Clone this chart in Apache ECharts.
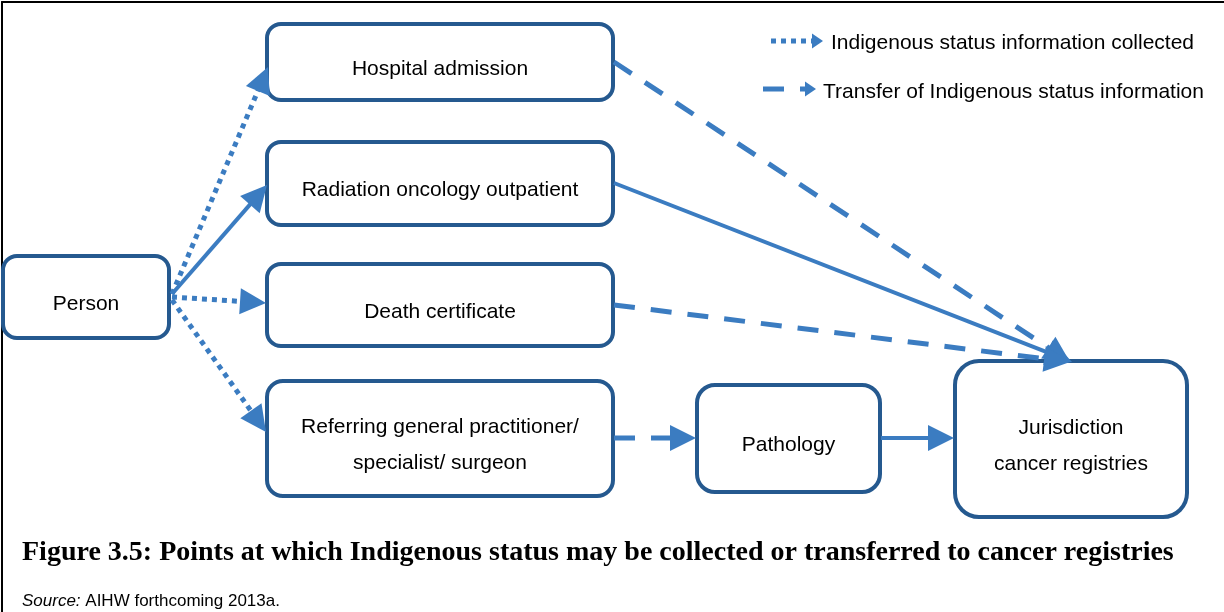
<!DOCTYPE html>
<html><head><meta charset="utf-8">
<script src="https://cdn.jsdelivr.net/npm/echarts@6/dist/echarts.min.js"></script>
<style>html,body{margin:0;padding:0;background:#fff}#c{width:1224px;height:612px}</style>
</head><body><div id="c"></div>
<script>
// ---- Diagram content ----
const nodeNames = [
  'Person',
  'Hospital admission',
  'Radiation oncology outpatient',
  'Death certificate',
  'Referring general practitioner/\nspecialist/ surgeon',
  'Pathology',
  'Jurisdiction\ncancer registries'
];
// links: from node index -> to node index, and the kind of flow
const linkFrom = [0, 0, 0, 0, 1, 2, 3, 4, 5];
const linkTo   = [1, 2, 3, 4, 6, 6, 6, 5, 6];
const linkKind = ['collected', 'solid', 'collected', 'collected', 'transfer', 'solid', 'transfer', 'transfer', 'solid'];
const legendLabels = ['Indigenous status information collected', 'Transfer of Indigenous status information'];
const legendKinds = ['collected', 'transfer'];
const titleText = 'Figure 3.5: Points at which Indigenous status may be collected or transferred to cancer registries';
const sourceLabel = 'Source:';
const sourceText = ' AIHW forthcoming 2013a.';

// ---- Layout (diagram units on hidden axes) ----
const nodeBoxes = [[3,256,169,338],[267,24,613,100],[267,142,613,225],[267,264,613,346],[267,381,613,496],[697,385,880,492],[955,361,1187,517]];
const nodeRadius = [14, 14, 14, 14, 16, 18, 24];
const linkStart = [[172,294],[172,294],[172,297],[172,300],[614,62],[614,183],[614,305],[614,438],[881,438]];
const linkEnd   = [[268,67],[267,185],[266,303],[266,432],[1070,362],[1072,362],[1070,362],[696,438],[954,438]];
const legendStart = [[771,41],[763,89]];
const legendEnd   = [[823,41],[816,89]];
const legendTextAt = [[831,43],[823,92]];

// ---- Styles ----
const BOX = '#25598f', ARROW = '#3b7cc1';
const DASH = { collected: [5, 5], transfer: [21, 16], solid: null };
const WIDTH = { collected: 5, transfer: 5, solid: 4 };

function arrow(p, q, kind, L, W) {
  const dx = q[0] - p[0], dy = q[1] - p[1];
  const len = Math.sqrt(dx * dx + dy * dy);
  const ux = dx / len, uy = dy / len;
  const bx = q[0] - ux * L, by = q[1] - uy * L;
  const nx = -uy, ny = ux;
  return [
    { type: 'line', shape: { x1: p[0], y1: p[1], x2: bx + ux * 1, y2: by + uy * 1 },
      style: { stroke: ARROW, lineWidth: WIDTH[kind], lineDash: DASH[kind], lineCap: 'butt' } },
    { type: 'polygon', shape: { points: [[q[0], q[1]], [bx + nx * W / 2, by + ny * W / 2], [bx - nx * W / 2, by - ny * W / 2]] },
      style: { fill: ARROW } }
  ];
}

const nodeData = nodeBoxes.map((b, i) => [b[0], b[1], b[2], b[3], i]);
const linkData = linkFrom.map((f, i) => [linkStart[i][0], linkStart[i][1], linkEnd[i][0], linkEnd[i][1], i]);
const legendData = legendLabels.map((l, i) => [legendStart[i][0], legendStart[i][1], legendEnd[i][0], legendEnd[i][1], i]);

const chart = echarts.init(document.getElementById('c'), null, { renderer: 'canvas' });
chart.setOption({
  animation: false,
  backgroundColor: '#fff',
  title: [
    { text: titleText, left: 17, top: 534,
      textStyle: { fontFamily: 'Liberation Serif', fontWeight: 'bold', fontSize: 28, color: '#000' } },
    { text: '{i|' + sourceLabel + '}{n|' + sourceText + '}', left: 17, top: 588,
      textStyle: { fontWeight: 'normal', rich: {
        i: { fontFamily: 'Liberation Sans', fontStyle: 'italic', fontWeight: 'normal', fontSize: 17, color: '#000' },
        n: { fontFamily: 'Liberation Sans', fontWeight: 'normal', fontSize: 17, color: '#000' } } } }
  ],
  grid: { left: 2, top: 2, right: 0, bottom: 0, containLabel: false },
  xAxis: { type: 'value', min: 2, max: 1224, position: 'top',
    axisLine: { show: true, onZero: false, lineStyle: { color: '#000', width: 2 } },
    axisTick: { show: false }, axisLabel: { show: false }, splitLine: { show: false } },
  yAxis: { type: 'value', min: 2, max: 612, inverse: true, position: 'left',
    axisLine: { show: true, onZero: false, lineStyle: { color: '#000', width: 2 } },
    axisTick: { show: false }, axisLabel: { show: false }, splitLine: { show: false } },
  series: [
    { type: 'custom', name: 'nodes', data: nodeData, silent: true,
      renderItem(params, api) {
        const i = api.value(4);
        const a = api.coord([api.value(0), api.value(1)]);
        const b = api.coord([api.value(2), api.value(3)]);
        return { type: 'group', children: [
          { type: 'rect', shape: { x: a[0], y: a[1], width: b[0] - a[0], height: b[1] - a[1], r: nodeRadius[i] },
            style: { fill: '#fff', stroke: BOX, lineWidth: 4 } },
          { type: 'text', x: (a[0] + b[0]) / 2, y: (a[1] + b[1]) / 2 + 7,
            style: { text: nodeNames[i], fill: '#000', font: '21px "Liberation Sans"', align: 'center', verticalAlign: 'middle', lineHeight: 36 } }
        ] };
      } },
    { type: 'custom', name: 'links', data: linkData, silent: true,
      renderItem(params, api) {
        const i = api.value(4);
        const p = api.coord([api.value(0), api.value(1)]);
        const q = api.coord([api.value(2), api.value(3)]);
        return { type: 'group', children: arrow(p, q, linkKind[i], 26, 26) };
      } },
    { type: 'custom', name: 'legend', data: legendData, silent: true,
      renderItem(params, api) {
        const i = api.value(4);
        const p = api.coord([api.value(0), api.value(1)]);
        const q = api.coord([api.value(2), api.value(3)]);
        const t = api.coord(legendTextAt[i]);
        const kids = arrow(p, q, legendKinds[i], 11, 15);
        kids.push({ type: 'text', x: t[0], y: t[1],
          style: { text: legendLabels[i], fill: '#000', font: '21px "Liberation Sans"', align: 'left', verticalAlign: 'middle' } });
        return { type: 'group', children: kids };
      } }
  ]
});
</script></body></html>
